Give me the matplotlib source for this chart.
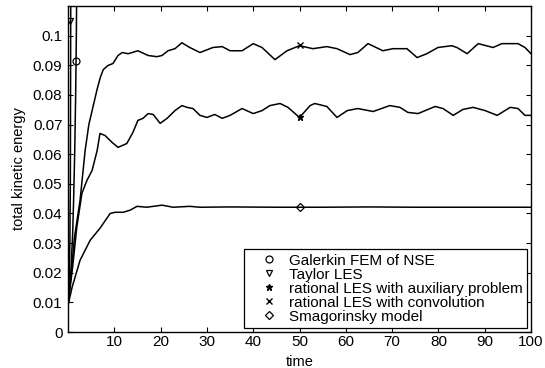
import matplotlib
matplotlib.use("Agg")
import matplotlib.pyplot as plt

plt.rcParams['font.family'] = ['Liberation Sans', 'DejaVu Sans']

# Galerkin FEM of NSE (blows up almost immediately)
t_gal = [0, 0.6, 1.0, 1.2, 1.45, 1.65, 1.8, 1.9]
e_gal = [0.009, 0.020, 0.033, 0.044, 0.061, 0.080, 0.100, 0.120]

# Taylor LES (blows up even faster)
t_tay = [0, 0.2, 0.4, 0.5, 0.55, 0.6]
e_tay = [0.009, 0.015, 0.030, 0.050, 0.080, 0.120]

# rational LES with convolution (upper curve)
t_conv = [0, 0.7, 1.4, 2.6, 3.7, 4.5, 5.4, 6.3, 7.0, 7.6, 8.6, 9.7, 10.8, 11.7,
          13.0, 15.1, 17.3, 19.2, 20.3, 21.6, 23.1, 24.6, 26.3, 28.5, 31.3,
          33.3, 35.0, 37.6, 40.0, 41.9, 44.7, 47.3, 50.0, 52.9, 55.9, 58.1,
          60.9, 62.6, 64.8, 68.0, 70.2, 73.2, 75.4, 77.5, 79.9, 82.9, 84.0,
          86.2, 88.6, 91.8, 93.7, 97.2, 98.7, 100]
e_conv = [0.009, 0.020, 0.032, 0.0444, 0.0613, 0.070, 0.076, 0.082, 0.086,
          0.0885, 0.0899, 0.0906, 0.0933, 0.0943, 0.0939, 0.0949, 0.0933,
          0.0929, 0.0933, 0.0949, 0.0956, 0.0976, 0.0960, 0.0943, 0.0960,
          0.0963, 0.0949, 0.0949, 0.0973, 0.0960, 0.0919, 0.0949, 0.0966,
          0.0956, 0.0963, 0.0956, 0.0936, 0.0943, 0.0973, 0.0949, 0.0956,
          0.0956, 0.0926, 0.0939, 0.0960, 0.0966, 0.0960, 0.0939, 0.0973,
          0.0960, 0.0973, 0.0973, 0.0960, 0.0939]

# rational LES with auxiliary problem (middle curve)
t_aux = [0, 1.0, 1.9, 3.0, 4.1, 5.2, 6.3, 6.9, 8.0, 9.5, 10.8, 12.7, 14.0,
         15.1, 16.2, 17.3, 18.4, 19.9, 21.4, 23.1, 24.6, 25.7, 27.0, 28.5,
         30.0, 31.7, 33.3, 35.0, 37.6, 40.0, 41.9, 43.6, 45.8, 47.5, 50.0,
         52.3, 53.3, 55.9, 58.1, 60.3, 62.6, 65.9, 69.5, 71.7, 73.4, 75.6,
         79.3, 81.0, 83.2, 85.3, 87.5, 90.1, 92.7, 95.5, 97.2, 98.7, 100]
e_aux = [0.009, 0.022, 0.0354, 0.0468, 0.0512, 0.0545, 0.0613, 0.0670,
         0.0663, 0.0640, 0.0623, 0.0636, 0.0673, 0.0714, 0.0721, 0.0737,
         0.0734, 0.0704, 0.0721, 0.0747, 0.0764, 0.0758, 0.0754, 0.0731,
         0.0724, 0.0734, 0.0721, 0.0731, 0.0754, 0.0737, 0.0747, 0.0764,
         0.0771, 0.0758, 0.0724, 0.0764, 0.0771, 0.0761, 0.0724, 0.0747,
         0.0754, 0.0744, 0.0764, 0.0758, 0.0741, 0.0737, 0.0761, 0.0754,
         0.0731, 0.0751, 0.0758, 0.0747, 0.0731, 0.0758, 0.0754, 0.0731,
         0.0731]

# Smagorinsky model (lower curve)
t_sma = [0, 0.9, 2.6, 4.8, 6.9, 9.1, 10.2, 11.9, 13.4, 14.9, 17.0, 20.3,
         22.7, 26.3, 28.5, 35, 45, 55, 65, 75, 85, 95, 100]
e_sma = [0.009, 0.0152, 0.0242, 0.0310, 0.0350, 0.0400, 0.0404, 0.0404,
         0.0411, 0.0424, 0.0421, 0.0428, 0.0421, 0.0424, 0.0421, 0.0422,
         0.0421, 0.0421, 0.0422, 0.0421, 0.0421, 0.0421, 0.0421]

# one marker per curve
mark_t = [1.75, 0.45, 50, 50, 50]
mark_e = [0.0915, 0.105, 0.0724, 0.0968, 0.0421]
mark_sym = ['o', 'v', '*', 'x', 'D']
labels = ['Galerkin FEM of NSE', 'Taylor LES',
          'rational LES with auxiliary problem',
          'rational LES with convolution', 'Smagorinsky model']

fig = plt.figure(figsize=(5.45, 3.68), dpi=100)
ax = fig.add_axes([0.1248, 0.0978, 0.8495, 0.8859])

lw = 1.1
for t, e in [(t_gal, e_gal), (t_tay, e_tay), (t_aux, e_aux),
             (t_conv, e_conv), (t_sma, e_sma)]:
    ax.plot(t, e, color='black', lw=lw)

handles = []
for i in range(5):
    sym = mark_sym[i]
    ms = 5 if sym != 'D' else 4
    if sym in ('*', 'x'):
        h, = ax.plot(mark_t[i], mark_e[i], sym, color='black', ms=ms,
                     mew=1.0, linestyle='none', label=labels[i])
    else:
        h, = ax.plot(mark_t[i], mark_e[i], sym, mfc='none', mec='black',
                     ms=ms, mew=0.9, linestyle='none', label=labels[i])
    handles.append(h)

ax.set_xlim(0, 100)
ax.set_ylim(0, 0.11)
ax.set_xticks([10, 20, 30, 40, 50, 60, 70, 80, 90, 100])
ax.set_yticks([0, 0.01, 0.02, 0.03, 0.04, 0.05, 0.06, 0.07, 0.08, 0.09, 0.1])
ax.set_yticklabels(['0', '0.01', '0.02', '0.03', '0.04', '0.05', '0.06',
                    '0.07', '0.08', '0.09', '0.1'])
ax.tick_params(direction='in', length=3.5, width=0.8, top=True, right=True,
               labelsize=11)
ax.tick_params(axis='x', pad=2.5)
ax.tick_params(axis='y', pad=4)
for s in ax.spines.values():
    s.set_linewidth(1.0)

ax.set_xlabel('time', fontsize=10.5, labelpad=4)
ax.set_ylabel('total kinetic energy', fontsize=10.5, labelpad=5)

leg = ax.legend(handles=handles, loc='lower right',
                bbox_to_anchor=(0.992, 0.012), borderaxespad=0,
                fancybox=False, edgecolor='black', fontsize=11,
                handlelength=2.67, handletextpad=0.0, borderpad=0.3,
                labelspacing=0.0, framealpha=1)
leg.get_frame().set_linewidth(0.9)

fig.savefig('out.png', dpi=100)
